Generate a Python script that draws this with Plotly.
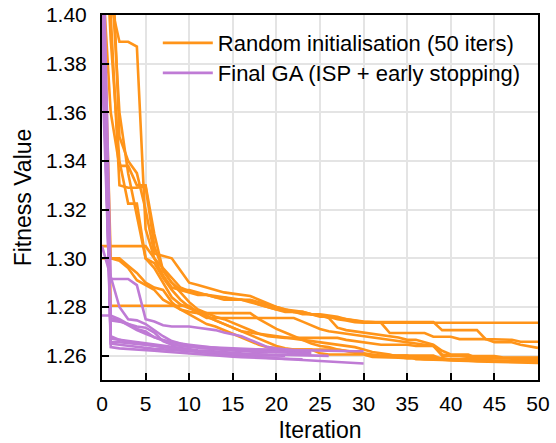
import plotly.graph_objects as go

iterations = list(range(51))

# Random initialisation runs (50 iterations each)
orange_runs = [
    [1.450, 1.405, 1.389, 1.389, 1.387, 1.312, 1.300, 1.293, 1.288, 1.287, 1.287,
     1.286, 1.285, 1.284, 1.283, 1.283, 1.283, 1.282, 1.281, 1.280, 1.279,
     1.278, 1.278, 1.277, 1.277, 1.276, 1.276, 1.275, 1.2745, 1.2738, 1.2735,
     1.2735, 1.2735, 1.2735, 1.2735, 1.2735, 1.2735, 1.2735, 1.2735, 1.2735, 1.2735,
     1.2735, 1.2735, 1.2735, 1.2735, 1.2735, 1.2735, 1.2735, 1.2735, 1.2735, 1.2735],
    [1.420, 1.360, 1.338, 1.338, 1.330, 1.330, 1.310, 1.295, 1.290, 1.287, 1.286,
     1.285, 1.285, 1.284, 1.284, 1.283, 1.283, 1.283, 1.282, 1.281, 1.280,
     1.279, 1.278, 1.278, 1.277, 1.277, 1.2765, 1.276, 1.275, 1.2745, 1.2738,
     1.2738, 1.2738, 1.2738, 1.2738, 1.2738, 1.2738, 1.2738, 1.2738, 1.2705, 1.2705,
     1.2705, 1.2705, 1.2705, 1.2668, 1.2668, 1.2665, 1.2665, 1.2657, 1.2657, 1.2657],
    [1.305, 1.305, 1.305, 1.305, 1.305, 1.305, 1.300, 1.296, 1.292, 1.288, 1.2865,
     1.2855, 1.285, 1.2845, 1.284, 1.2835, 1.283, 1.2825, 1.281, 1.280, 1.279,
     1.2785, 1.278, 1.2775, 1.277, 1.2765, 1.276, 1.2755, 1.275, 1.2745, 1.274,
     1.2738, 1.2735, 1.2693, 1.2693, 1.2693, 1.2693, 1.2693, 1.2678, 1.2678, 1.2678,
     1.2668, 1.2668, 1.2668, 1.2668, 1.2655, 1.2655, 1.2655, 1.2645, 1.2638, 1.2632],
    [1.440, 1.2805, 1.2805, 1.2805, 1.2805, 1.2805, 1.2805, 1.2805, 1.2805, 1.2805, 1.2805,
     1.2775, 1.2755, 1.2755, 1.2755, 1.2755, 1.2755, 1.2755, 1.2755, 1.2755, 1.2755,
     1.2755, 1.2755, 1.274, 1.2725, 1.271, 1.270, 1.2695, 1.269, 1.2685, 1.268,
     1.2675, 1.267, 1.2665, 1.266, 1.2655, 1.265, 1.2645, 1.264, 1.260, 1.260,
     1.260, 1.2595, 1.2595, 1.259, 1.259, 1.2588, 1.2588, 1.2585, 1.2585, 1.2585],
    [1.470, 1.400, 1.330, 1.329, 1.329, 1.3295, 1.305, 1.295, 1.290, 1.286, 1.282,
     1.279, 1.2775, 1.276, 1.275, 1.2735, 1.272, 1.2705, 1.269, 1.268, 1.2675,
     1.2673, 1.2673, 1.2673, 1.2673, 1.2673, 1.2673, 1.2673, 1.2665, 1.266, 1.2655,
     1.265, 1.2645, 1.2645, 1.2645, 1.2645, 1.264, 1.264, 1.264, 1.2605, 1.2598,
     1.2598, 1.2598, 1.2598, 1.2598, 1.2598, 1.2592, 1.2592, 1.2592, 1.2592, 1.2592],
    [1.460, 1.390, 1.340, 1.3225, 1.3225, 1.300, 1.298, 1.292, 1.287, 1.283, 1.280,
     1.278, 1.276, 1.2745, 1.273, 1.2715, 1.270, 1.2685, 1.267, 1.2655, 1.264,
     1.263, 1.2625, 1.2625, 1.2625, 1.2625, 1.2625, 1.2625, 1.262, 1.2615, 1.261,
     1.2605, 1.260, 1.260, 1.260, 1.260, 1.260, 1.260, 1.260, 1.2585, 1.2585,
     1.2585, 1.2585, 1.2585, 1.2585, 1.2578, 1.2578, 1.2578, 1.2578, 1.2578, 1.2578],
    [1.300, 1.300, 1.300, 1.297, 1.294, 1.290, 1.288, 1.287, 1.282, 1.279, 1.277,
     1.275, 1.273, 1.272, 1.2705, 1.269, 1.2675, 1.266, 1.2645, 1.2635, 1.263,
     1.2625, 1.2625, 1.2625, 1.2625, 1.261, 1.2605, 1.2605, 1.2605, 1.2605, 1.2605,
     1.2595, 1.2595, 1.2592, 1.2592, 1.259, 1.259, 1.259, 1.259, 1.259, 1.2585,
     1.2585, 1.2582, 1.2582, 1.258, 1.258, 1.2578, 1.2578, 1.2577, 1.2575, 1.2575],
    [1.450, 1.440, 1.350, 1.340, 1.335, 1.320, 1.302, 1.301, 1.300, 1.295, 1.290,
     1.289, 1.288, 1.287, 1.286, 1.2855, 1.285, 1.2845, 1.283, 1.2815, 1.280,
     1.279, 1.2785, 1.278, 1.277, 1.2765, 1.2755, 1.2715, 1.2705, 1.270, 1.2695,
     1.269, 1.2685, 1.268, 1.2675, 1.2665, 1.2665, 1.2655, 1.2645, 1.262, 1.2605,
     1.2605, 1.2605, 1.259, 1.259, 1.259, 1.259, 1.259, 1.259, 1.259, 1.259],
    [1.430, 1.300, 1.299, 1.296, 1.291, 1.289, 1.287, 1.283, 1.281, 1.279, 1.278,
     1.2775, 1.2775, 1.2775, 1.2775, 1.2775, 1.2775, 1.2775, 1.275, 1.273, 1.271,
     1.2695, 1.268, 1.2665, 1.265, 1.264, 1.2635, 1.2625, 1.2618, 1.2612, 1.2608,
     1.260, 1.260, 1.260, 1.260, 1.260, 1.2585, 1.2585, 1.2585, 1.2582, 1.258,
     1.258, 1.2578, 1.2576, 1.2575, 1.2573, 1.2572, 1.2571, 1.257, 1.257, 1.257],
    [1.480, 1.420, 1.360, 1.335, 1.318, 1.300, 1.296, 1.290, 1.284, 1.281, 1.2795,
     1.278, 1.2765, 1.2745, 1.273, 1.2715, 1.270, 1.2695, 1.269, 1.2685, 1.268,
     1.2675, 1.267, 1.2665, 1.266, 1.2655, 1.265, 1.2645, 1.264, 1.2635, 1.2625,
     1.2615, 1.261, 1.2605, 1.2595, 1.259, 1.259, 1.2585, 1.2585, 1.2585, 1.2582,
     1.258, 1.258, 1.2578, 1.2578, 1.2576, 1.2576, 1.2575, 1.2575, 1.2574, 1.2574],
]

# Final GA runs (ISP + early stopping), variable length
purple_runs = [
    [1.420, 1.265, 1.2645, 1.264, 1.2635, 1.263, 1.2628, 1.2626, 1.2624, 1.2622, 1.262,
     1.2617, 1.2614, 1.2611, 1.2608, 1.2605, 1.2603, 1.2602, 1.2601, 1.2600, 1.2600, 1.2600],
    [1.305, 1.292, 1.280, 1.275, 1.2745, 1.273, 1.2705, 1.268, 1.266, 1.265, 1.2645,
     1.264, 1.2635, 1.263, 1.2628, 1.2625, 1.2623, 1.2621, 1.262, 1.2619, 1.2618,
     1.2617, 1.2616, 1.2615, 1.2615],
    [1.2765, 1.2765, 1.275, 1.273, 1.272, 1.2715, 1.2695, 1.266, 1.2645, 1.264, 1.2638,
     1.2636, 1.2634, 1.2632, 1.263, 1.2629, 1.2628, 1.2627, 1.2626, 1.2625, 1.2625,
     1.2623, 1.2622, 1.2621, 1.262, 1.262, 1.262, 1.2619, 1.2619, 1.2618, 1.2618],
    [1.450, 1.2915, 1.2915, 1.2915, 1.289, 1.275, 1.274, 1.2725, 1.272, 1.272, 1.272,
     1.2715, 1.271, 1.2705, 1.2695, 1.2688, 1.268, 1.2665, 1.265, 1.2635, 1.263,
     1.2625, 1.2622],
    [1.430, 1.2655, 1.2655, 1.265, 1.2648, 1.2645, 1.264, 1.2635, 1.263, 1.2625, 1.262,
     1.2616, 1.2612, 1.2609, 1.2607, 1.2605, 1.2600, 1.2596, 1.2593, 1.2591, 1.259,
     1.2587, 1.2584, 1.2582, 1.258, 1.2578, 1.2576, 1.2574, 1.2572, 1.257, 1.2568],
    [1.400, 1.267, 1.2665, 1.266, 1.2655, 1.265, 1.2645, 1.264, 1.2635, 1.263, 1.2625,
     1.2622, 1.262, 1.2617, 1.2614, 1.261, 1.2608, 1.2607, 1.2606, 1.2605, 1.2605,
     1.2603, 1.2602, 1.2601, 1.26, 1.26, 1.2599],
    [1.380, 1.2745, 1.274, 1.273, 1.271, 1.270, 1.2675, 1.2665, 1.2655, 1.265, 1.264,
     1.2635, 1.263, 1.2627, 1.2624, 1.2621, 1.2619, 1.2617, 1.2615, 1.2614],
    [1.390, 1.2755, 1.2745, 1.2725, 1.2705, 1.269, 1.2675, 1.266, 1.2648, 1.264, 1.2636,
     1.2633, 1.263, 1.2628, 1.2626, 1.2625, 1.2622, 1.262, 1.2617, 1.2615, 1.2612,
     1.2611, 1.261, 1.2609, 1.2608],
    [1.440, 1.268, 1.2665, 1.2655, 1.265, 1.2645, 1.264, 1.2635, 1.263, 1.2625, 1.262,
     1.2618, 1.2615, 1.2612, 1.261, 1.2608, 1.2606, 1.2605],
    [1.410, 1.2635, 1.263, 1.2628, 1.2625, 1.2622, 1.262, 1.2617, 1.2614, 1.2611, 1.2608,
     1.2605, 1.2602, 1.26, 1.2598, 1.2596, 1.2594, 1.2592, 1.259, 1.2589, 1.2588,
     1.2587, 1.2586, 1.2585],
]

orange_label = "Random initialisation (50 iters)"
purple_label = "Final GA (ISP + early stopping)"
orange_color = "#FF9419"
purple_color = "#BF7BD5"

x_ticks = list(range(0, 51, 5))
y_ticks = [1.26, 1.28, 1.30, 1.32, 1.34, 1.36, 1.38, 1.40]

fig = go.Figure()
for i, run in enumerate(orange_runs):
    fig.add_trace(go.Scatter(
        x=iterations[:len(run)], y=run, mode="lines",
        line=dict(color=orange_color, width=2.6),
        name=orange_label, showlegend=(i == 0), legend="legend"))
for i, run in enumerate(purple_runs):
    fig.add_trace(go.Scatter(
        x=iterations[:len(run)], y=run, mode="lines",
        line=dict(color=purple_color, width=2.6),
        name=purple_label, showlegend=(i == 0), legend="legend2"))

axis_common = dict(
    showline=True, linecolor="black", linewidth=2, mirror=True,
    ticks="inside", ticklen=7, tickwidth=1.5, tickcolor="black",
    showgrid=True, gridcolor="#e4e4e4", gridwidth=1.5, zeroline=False,
    automargin=False,
    tickfont=dict(family="Liberation Sans, Arial, sans-serif", size=21, color="black"),
)

legend_common = dict(xanchor="left", yanchor="middle", x=0.128,
                     bgcolor="rgba(0,0,0,0)", borderwidth=0,
                     font=dict(size=22), itemwidth=50)

fig.update_layout(
    width=556, height=443,
    margin=dict(l=102, r=18, t=15, b=63),
    paper_bgcolor="white", plot_bgcolor="white",
    font=dict(family="Liberation Sans, Arial, sans-serif", color="black"),
    xaxis=dict(range=[0, 50], tickvals=x_ticks, ticklabelstandoff=4,
               title=dict(text="Iteration", font=dict(size=23), standoff=10),
               **axis_common),
    yaxis=dict(range=[1.25, 1.40], tickvals=y_ticks, tickformat=".2f",
               ticklabelstandoff=9,
               title=dict(text="Fitness Value", font=dict(size=23), standoff=8),
               **axis_common),
    legend=dict(y=0.923, **legend_common),
    legend2=dict(y=0.841, **legend_common),
)

fig.write_html("out.html")
